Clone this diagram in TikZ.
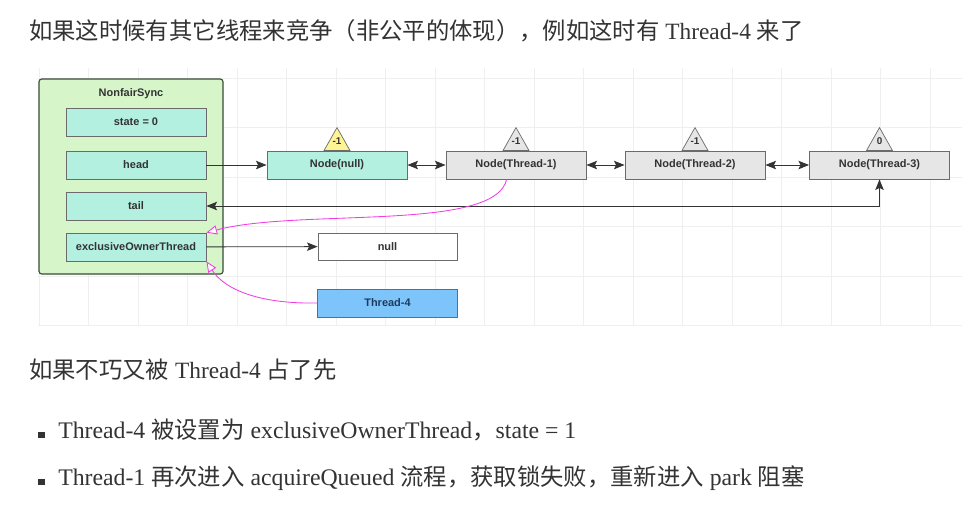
\documentclass[tikz,border=0pt]{standalone}
\usepackage{fontspec}
\usepackage{xcolor}
\usepackage{tikz}
\usetikzlibrary{arrows.meta}
\setmainfont{Liberation Serif}
\newfontfamily\cjk{Noto Sans CJK SC}
\newfontfamily\dia{Liberation Sans}
\definecolor{txt}{HTML}{333333}
\definecolor{syncgreen}{HTML}{D6F5C9}
\definecolor{syncline}{HTML}{3A4A3A}
\definecolor{aqua}{HTML}{B3F0DF}
\definecolor{qgray}{HTML}{E6E6E6}
\definecolor{boxline}{HTML}{6B6B6B}
\definecolor{flagyellow}{HTML}{FFF494}
\definecolor{t4blue}{HTML}{7DC4FA}
\definecolor{t4text}{HTML}{1F3A5F}
\definecolor{lineclr}{HTML}{333333}
\definecolor{pinkline}{HTML}{F03CE4}
\definecolor{gridclr}{HTML}{EFEFEF}

\begin{document}
\begin{tikzpicture}[x=0.025cm, y=-0.025cm, >={Stealth[length=7.5pt,width=6pt,inset=1.5pt]},
    every node/.style={inner sep=0pt, text=txt},
    diafont/.style={font=\dia\bfseries\fontsize{7.8}{9}\selectfont},
    field/.style={diafont, draw=boxline, fill=aqua, line width=0.6pt, minimum width=3.5cm, minimum height=0.7cm},
    qnode/.style={field, fill=qgray},
    flag/.style={draw=boxline, fill=#1, line width=0.5pt},
    link/.style={draw=lineclr, line width=0.6pt},
    owner/.style={draw=pinkline, line width=0.6pt, -{Triangle[length=7.5pt,width=6.5pt,fill=white]}},
    gridline/.style={draw=gridclr, line width=0.6pt},
    bigtext/.style={anchor=west, font=\fontsize{16.6}{20}\selectfont},
    itemtext/.style={anchor=west, font=\fontsize{16.9}{20}\selectfont}]
    \useasboundingbox[fill=white] (0,0) rectangle (975,508);

    % background grid
    \foreach \gx in {0,...,18}
        \draw[gridline] (39+\gx*49.5,68) -- (39+\gx*49.5,326);
    \foreach \gy in {0,...,5}
        \draw[gridline] (38,78+\gy*49.5) -- (962,78+\gy*49.5);

    \node[bigtext] (intro) at (29,31) {{\cjk 如果这时候有其它线程来竞争（非公平的体现），例如这时有} Thread-4 {\cjk 来了}};

    \node[draw=syncline, fill=syncgreen, line width=0.8pt, rounded corners=2pt, minimum width=4.6cm, minimum height=4.875cm] (sync) at (131,176.5) {};
    \node[diafont] (synctitle) at (131,94) {NonfairSync};
    \node[field] (state) at (136,122) {state = 0};
    \node[field] (head) at (136,165) {head};
    \node[field] (tail) at (136,206) {tail};
    \node[field] (owner) at (136,247) {exclusiveOwnerThread};

    \node[field] (nnull) at (337,165) {Node(null)};
    \node[qnode] (t1) at (516,165) {Node(Thread-1)};
    \node[qnode] (t2) at (695,165) {Node(Thread-2)};
    \node[qnode] (t3) at (879.5,165) {Node(Thread-3)};

    \foreach \n/\v/\c in {nnull/-1/flagyellow, t1/-1/qgray, t2/-1/qgray, t3/0/qgray} {
        \draw[flag=\c] (\n.north) ++(-13,0) -- ++(13,-23) -- ++(13,23) -- cycle;
        \node[font=\dia\bfseries\fontsize{7}{8}\selectfont] (w\n) at ([yshift=0.24cm]\n.north) {\v};
    }

    \node[field, fill=white, minimum width=3.475cm, minimum height=0.675cm] (null) at (387.5,246.5) {null};
    \node[field, fill=t4blue, text=t4text] (thread4) at (387.5,303) {Thread-4};

    \draw[link, ->] (head) -- (nnull);
    \draw[link, <->] (nnull) -- (t1);
    \draw[link, <->] (t1) -- (t2);
    \draw[link, <->] (t2) -- (t3);
    \draw[link, <->] (tail.east) -| (t3.south);
    \draw[link, ->] (owner) -- (null);

    \draw[owner] (t1.237) .. controls (495,232) and (300,208) .. (owner.north east);
    \draw[owner] (thread4.west) .. controls (260,304) and (225,290) .. (owner.south east);

    \node[bigtext] (lucky) at (29,370) {{\cjk 如果不巧又被} Thread-4 {\cjk 占了先}};
    \node[fill=txt, minimum size=0.15cm] (dot1) at (41.5,435) {};
    \node[itemtext] (item1) at (58,430) {Thread-4 {\cjk\fontsize{16.6}{20}\selectfont 被设置为} exclusiveOwnerThread{\cjk\fontsize{16.6}{20}\selectfont ，}state = 1};
    \node[fill=txt, minimum size=0.15cm] (dot2) at (41.5,482) {};
    \node[itemtext] (item2) at (58,478) {Thread-1 {\cjk\fontsize{16.6}{20}\selectfont 再次进入} acquireQueued {\cjk\fontsize{16.6}{20}\selectfont 流程，获取锁失败，重新进入} park {\cjk\fontsize{16.6}{20}\selectfont 阻塞}};
\end{tikzpicture}
\end{document}
